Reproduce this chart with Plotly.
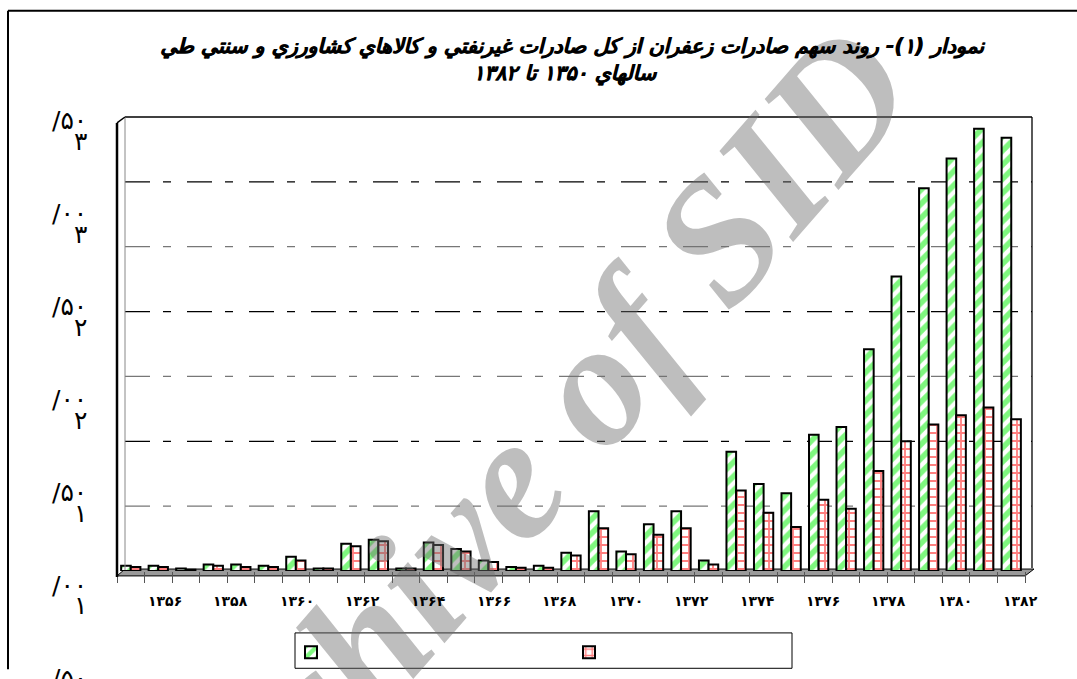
import plotly.graph_objects as go

# ---------------- data ----------------
years = list(range(1350, 1383))
green_vals = [0.04, 0.04, 0.02, 0.05, 0.05, 0.04, 0.11, 0.02, 0.21, 0.24, 0.02,
              0.22, 0.17, 0.08, 0.03, 0.04, 0.14, 0.46, 0.15, 0.36, 0.46, 0.08,
              0.92, 0.67, 0.60, 1.05, 1.11, 1.71, 2.27, 2.95, 3.18, 3.41, 3.34]
red_vals = [0.03, 0.03, 0.01, 0.04, 0.03, 0.03, 0.08, 0.02, 0.19, 0.23, 0.02,
            0.20, 0.15, 0.07, 0.025, 0.025, 0.12, 0.33, 0.13, 0.28, 0.33, 0.05,
            0.62, 0.45, 0.34, 0.55, 0.48, 0.77, 1.00, 1.13, 1.20, 1.26, 1.17]
x_tick_text = ["۱۳۵۶", "۱۳۵۸", "۱۳۶۰", "۱۳۶۲", "۱۳۶۴", "۱۳۶۶", "۱۳۶۸",
               "۱۳۷۰", "۱۳۷۲", "۱۳۷۴", "۱۳۷۶", "۱۳۷۸", "۱۳۸۰", "۱۳۸۲"]
y_label_top = ["/۵۰", "/۰۰", "/۵۰", "/۰۰", "/۵۰", "/۰۰", "/۵۰"]
y_label_bottom = ["۳", "۳", "۲", "۲", "۱", "۱", ""]
grid_vals = [0.5, 1.0, 1.5, 2.0, 2.5, 3.0]
title_lines = ["نمودار (۱)- روند سهم صادرات زعفران از کل صادرات غيرنفتي و کالاهاي کشاورزي و سنتي طي",
               "سالهاي ۱۳۵۰ تا ۱۳۸۲"]
watermark = "Archive of SID"

# ---------------- geometry helpers ----------------
W, H = 1077, 679
L, R, T, B = 117, 1025, 117, 579
PW, PH = R - L, B - T


def px(xp):
    return (xp - L) / PW


def py(yp):
    return (B - yp) / PH


fig = go.Figure()
fig.add_trace(go.Bar(
    x=years, y=green_vals, name=" ",
    marker=dict(color="white", line=dict(color="black", width=2),
                pattern=dict(shape="/", fgcolor="#00f000", bgcolor="white",
                             size=10, solidity=0.55)),
))
fig.add_trace(go.Bar(
    x=years, y=red_vals, name=" ",
    marker=dict(color="white", line=dict(color="black", width=2),
                pattern=dict(shape="+", fgcolor="#ff0000", bgcolor="white",
                             size=8, solidity=0.4)),
))

shapes = []
# grid lines (alternating black / gray, long-short dash)
for i, g in enumerate(grid_vals):
    shapes.append(dict(type="line", xref="paper", yref="y", x0=px(125), x1=px(1032),
                       y0=g, y1=g, layer="below",
                       line=dict(color="black" if i % 2 == 1 else "#777777",
                                 width=1.2, dash="25px,13px,8px,16px")))
# plot frame (top and right)
shapes.append(dict(type="line", xref="paper", yref="paper", x0=px(125), x1=px(1032),
                   y0=py(117), y1=py(117), line=dict(color="black", width=1.3)))
shapes.append(dict(type="line", xref="paper", yref="paper", x0=px(1032), x1=px(1032),
                   y0=py(117), y1=py(576), line=dict(color="black", width=1.3)))
# left wall
shapes.append(dict(type="line", xref="paper", yref="paper", x0=px(117), x1=px(117),
                   y0=py(123), y1=py(585), line=dict(color="black", width=2.5)))
shapes.append(dict(type="line", xref="paper", yref="paper", x0=px(125), x1=px(125),
                   y0=py(117), y1=py(578), line=dict(color="#888888", width=1)))
shapes.append(dict(type="line", xref="paper", yref="paper", x0=px(117), x1=px(125),
                   y0=py(123), y1=py(117), line=dict(color="black", width=1.5)))
# floor
shapes.append(dict(type="path", xref="paper", yref="paper",
                   path=f"M {px(117)},{py(584)} L {px(1025)},{py(584)} L {px(1034)},{py(577)} "
                        f"L {px(125)},{py(577)} Z",
                   fillcolor="#9a9a9a", line=dict(color="black", width=1), layer="below"))
# legend box
shapes.append(dict(type="rect", xref="paper", yref="paper", x0=px(295), x1=px(792),
                   y0=py(642), y1=py(678), line=dict(color="black", width=1),
                   fillcolor="rgba(0,0,0,0)"))
# page frame (top + left)
shapes.append(dict(type="line", xref="paper", yref="paper", x0=px(8), x1=px(1077),
                   y0=py(9), y1=py(9), line=dict(color="black", width=2)))
shapes.append(dict(type="line", xref="paper", yref="paper", x0=px(8), x1=px(8),
                   y0=py(9), y1=py(679), line=dict(color="black", width=2)))

annotations = []
# watermark (first so it sits under the other annotations)
annotations.append(dict(text=watermark, xref="paper", yref="paper", x=px(515), y=py(478),
                        xanchor="center", yanchor="middle", showarrow=False, textangle=-49,
                        font=dict(family="Liberation Serif", size=176,
                                  color="rgba(110,110,110,0.45)",
                                  weight="bold", style="italic")))
# x labels
for k, t in enumerate(x_tick_text):
    annotations.append(dict(text=t, xref="paper", yref="paper", x=px(165 + 65.8 * k),
                            y=py(610), xanchor="center", yanchor="middle", showarrow=False,
                            font=dict(family="DejaVu Sans", size=14, color="black", weight="bold")))
# y labels (two-line Persian numbers)
for k, (a, b) in enumerate(zip(y_label_top, y_label_bottom)):
    c = 130 + 94.5 * k
    annotations.append(dict(text=a, xref="paper", yref="paper", x=px(89), y=py(c - 9),
                            xanchor="right", yanchor="middle", showarrow=False,
                            font=dict(family="DejaVu Sans", size=25, color="black")))
    if b:
        annotations.append(dict(text=b, xref="paper", yref="paper", x=px(89), y=py(c + 12),
                                xanchor="right", yanchor="middle", showarrow=False,
                                font=dict(family="DejaVu Sans", size=25, color="black")))
# title
tfont = dict(family="DejaVu Sans", size=20.5, color="black", weight="bold", style="italic",
             shadow="0.8px 0px 0px black")
annotations.append(dict(text=title_lines[0], xref="paper", yref="paper", x=px(572), y=py(45),
                        xanchor="center", yanchor="middle", showarrow=False, font=tfont))
annotations.append(dict(text=title_lines[1], xref="paper", yref="paper", x=px(565), y=py(73),
                        xanchor="center", yanchor="middle", showarrow=False, font=tfont))

fig.update_layout(
    width=W, height=H,
    margin=dict(l=L, r=W - R, t=T, b=H - B, pad=0),
    paper_bgcolor="white", plot_bgcolor="rgba(0,0,0,0)",
    barmode="group", bargap=0.3, bargroupgap=0.0,
    showlegend=True,
    legend=dict(orientation="h", x=px(291), y=py(647), xanchor="left", yanchor="top",
                entrywidth=233, entrywidthmode="pixels", bgcolor="rgba(0,0,0,0)",
                borderwidth=0, font=dict(size=12), itemwidth=30),
    xaxis=dict(range=[1349.5, 1382.5], showgrid=False, zeroline=False, showline=False,
               tickmode="array", tickvals=[y - 0.5 for y in years] + [years[-1] + 0.5],
               ticktext=[""] * (len(years) + 1), ticks="outside", ticklen=11,
               tickcolor="#555555", tickwidth=1.2),
    yaxis=dict(range=[0, 3.5], showgrid=False, zeroline=False, showline=False,
               showticklabels=False, ticks=""),
    shapes=shapes, annotations=annotations,
)

fig.write_html("out.html", config={"displayModeBar": False},
               post_script="document.body.style.margin='0';document.body.style.overflow='hidden';")
